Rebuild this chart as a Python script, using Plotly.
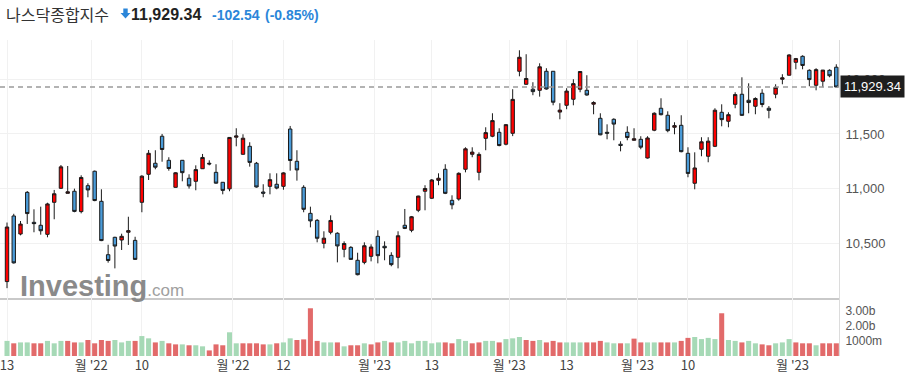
import plotly.graph_objects as go

# ---------------- data (NASDAQ Composite, daily) ----------------
opens = [10150, 10750, 10585, 10966, 10692, 10665, 10582, 10875, 11003, 10957,
         10976, 10790, 11027, 11159, 10884, 10396, 10555, 10530, 10601, 10527,
         10875, 11131, 11232, 11479, 11259, 11012, 11259, 11095, 11067, 11182,
         11232, 11149, 11058, 10998, 11470, 11314, 11387, 11232, 10969, 11021,
         11040, 11021, 11545, 11250, 11012, 10774, 10710, 10500, 10601, 10592,
         10445, 10463, 10345, 10326, 10381, 10564, 10473, 10390, 10372, 10665,
         10619, 10802, 10976, 10912, 11076, 11177, 10893, 10905, 11177, 11314,
         11149, 11460, 11479, 11515, 11406, 11506, 12073, 11954, 11909, 11899,
         12073, 12073, 11700, 11762, 11817, 11909, 11899, 11772, 11643, 11515,
         11634, 11406, 11515, 11442, 11451, 11280, 11534, 11735, 11671, 11561,
         11579, 11323, 11049, 11360, 11296, 11387, 11698, 11616, 11771, 11863,
         11808, 11753, 11872, 11735, 11863, 12000, 12037, 12155, 12210, 12082,
         11945, 11982, 12082, 12110]
highs = [10690, 10770, 10704, 10978, 10811, 10835, 10871, 10988, 11216, 11207,
         11000, 11122, 11049, 11165, 10994, 10487, 10560, 10588, 10743, 10560,
         11122, 11353, 11351, 11500, 11287, 11150, 11262, 11131, 11213, 11317,
         11259, 11223, 11060, 11472, 11552, 11497, 11424, 11244, 11040, 11140,
         11140, 11150, 11573, 11351, 11031, 10835, 10722, 10610, 10756, 10601,
         10518, 10474, 10414, 10509, 10491, 10619, 10518, 10418, 10610, 10814,
         10750, 10935, 11031, 11088, 11140, 11223, 10939, 11149, 11378, 11378,
         11332, 11561, 11689, 11552, 11590, 11909, 12265, 12229, 11973, 12146,
         12101, 12075, 11781, 11918, 12000, 12075, 12037, 11799, 11689, 11588,
         11643, 11433, 11570, 11552, 11479, 11479, 11698, 11826, 11707, 11607,
         11671, 11378, 11332, 11470, 11470, 11735, 11771, 11698, 11881, 12018,
         11963, 11835, 11909, 11755, 11954, 12046, 12229, 12195, 12219, 12091,
         12101, 12085, 12091, 12137]
lows = [10090, 10315, 10573, 10677, 10601, 10579, 10555, 10720, 10997, 10957,
        10784, 10774, 10921, 10885, 10520, 10323, 10271, 10439, 10485, 10350,
        10784, 11079, 11177, 11246, 11164, 11010, 11067, 11000, 10985, 11180,
        11213, 11045, 10948, 10976, 11387, 11310, 11201, 11010, 10921, 10948,
        10994, 10990, 11164, 11073, 10784, 10646, 10509, 10454, 10582, 10326,
        10372, 10350, 10207, 10308, 10335, 10317, 10345, 10290, 10271, 10630,
        10601, 10785, 10802, 10905, 11031, 10950, 10811, 10890, 11149, 11287,
        11076, 11351, 11470, 11387, 11396, 11480, 12027, 11950, 11854, 11841,
        11905, 11762, 11634, 11726, 11762, 11881, 11850, 11680, 11488, 11451,
        11442, 11341, 11442, 11440, 11360, 11275, 11525, 11670, 11515, 11497,
        11332, 11104, 10994, 11296, 11241, 11380, 11570, 11561, 11735, 11665,
        11689, 11680, 11744, 11643, 11826, 11954, 12035, 12091, 12091, 11936,
        11899, 11927, 12018, 11929.34]
closes = [10649, 10321, 10676, 10772, 10680, 10615, 10860, 10953, 11199, 10971,
          10792, 11102, 10988, 10891, 10525, 10343, 10475, 10564, 10616, 10353,
          11114, 11323, 11196, 11358, 11184, 11145, 11146, 11025, 11174, 11285,
          11226, 11050, 10984, 11468, 11482, 11461, 11240, 11015, 10958, 11082,
          11005, 11144, 11257, 11171, 10811, 10705, 10546, 10547, 10709, 10476,
          10498, 10353, 10213, 10478, 10466, 10387, 10459, 10305, 10569, 10636,
          10743, 10932, 11001, 11079, 11095, 10957, 10852, 11140, 11364, 11334,
          11313, 11512, 11622, 11394, 11585, 11816, 12201, 12007, 11887, 12114,
          11911, 11790, 11718, 11892, 11960, 12071, 11856, 11787, 11492, 11507,
          11590, 11395, 11467, 11456, 11379, 11463, 11689, 11676, 11530, 11576,
          11338, 11139, 11189, 11428, 11434, 11717, 11631, 11676, 11860, 11670,
          11787, 11824, 11769, 11716, 11926, 12013, 12222, 12189, 12126, 11997,
          12088, 12084, 12032, 11929.34]
volumes_b = [1.0, 0.84, 0.9, 0.9, 0.84, 0.84, 1.0, 0.84, 1.0, 1.0,
             0.9, 0.9, 1.06, 0.84, 1.06, 1.0, 1.06, 0.9, 1.0, 1.0,
             1.32, 1.17, 0.9, 1.0, 0.84, 0.77, 0.77, 0.71, 0.71, 0.64,
             0.37, 0.77, 0.71, 1.57, 0.84, 0.84, 0.84, 0.84, 0.77, 0.77,
             0.84, 0.9, 1.17, 1.06, 1.1, 3.16, 1.0, 0.9, 0.9, 0.9,
             0.64, 0.71, 0.71, 0.84, 0.77, 0.9, 1.0, 0.9, 0.9, 1.0,
             0.84, 1.0, 1.0, 0.84, 0.9, 0.9, 0.84, 1.12, 1.0, 0.84,
             0.9, 1.0, 1.0, 0.9, 1.12, 1.17, 1.26, 1.06, 1.0, 1.06,
             0.9, 1.0, 0.9, 0.9, 0.9, 0.9, 0.9, 0.9, 1.0, 0.9,
             0.84, 0.84, 0.84, 1.15, 0.9, 0.9, 0.9, 0.9, 0.9, 0.9,
             1.0, 1.2, 1.26, 1.12, 1.2, 1.12, 2.83, 1.06, 1.0, 0.9,
             1.0, 0.84, 0.77, 0.71, 0.84, 0.9, 1.12, 0.9, 0.84, 0.84,
             0.71, 0.84, 0.84, 0.84]

tick_positions = [0, 12.5, 20, 33.5, 41, 54.5, 63, 74.5, 83, 93.5, 101, 116.5]
tick_labels = ["13", "월 '22", "10", "월 '22", "12", "월 '23", "13", "월 '23", "13", "월 '23", "10", "월 '23"]
price_ticks = [10500, 11000, 11500, 12000]
volume_ticks = [1, 2, 3]
volume_tick_labels = ["1000m", "2.00b", "3.00b"]

title_text = "나스닥종합지수"
last_text = "11,929.34"
change_text = "-102.54"
pct_text = "(-0.85%)"

# ---------------- styling ----------------
UP_FILL = "#ff0000"
DOWN_FILL = "#4a9bd8"
VOL_UP = "#a6d9b6"
VOL_DOWN = "#e26a6a"
FONT = "Liberation Sans, Arial, sans-serif"
KFONT = "Noto Sans CJK KR, sans-serif"

x = list(range(len(closes)))
vol_colors = [VOL_UP if (i == 0 and closes[0] >= opens[0]) or (i > 0 and closes[i] >= closes[i - 1]) else VOL_DOWN
              for i in range(len(closes))]

W, H = 907, 386
ML, MR, MT, MB = 0, 68, 40, 30
PW, PH = W - ML - MR, H - MT - MB


def px(xp):
    return (xp - ML) / PW


def py(yp):
    return (H - MB - yp) / PH


split = py(298)

fig = go.Figure()
fig.add_trace(go.Candlestick(
    x=x, open=opens, high=highs, low=lows, close=closes,
    increasing=dict(fillcolor=UP_FILL, line=dict(color="#1a1a1a", width=1)),
    decreasing=dict(fillcolor=DOWN_FILL, line=dict(color="#1a1a1a", width=1)),
    whiskerwidth=0, xaxis="x", yaxis="y", showlegend=False, hoverinfo="skip"))
fig.add_trace(go.Bar(x=x, y=volumes_b, marker=dict(color=vol_colors, line=dict(width=0)),
                     xaxis="x2", yaxis="y2", showlegend=False, hoverinfo="skip"))

xr = [-1.04, 123.4]
grid = "#f1f1f1"
fig.update_layout(
    width=W, height=H, margin=dict(l=ML, r=MR, t=MT, b=MB),
    paper_bgcolor="white", plot_bgcolor="white",
    boxgap=0.28, bargap=0.25,
    font=dict(family=FONT, color="#444", size=13),
    xaxis=dict(domain=[0, 1], anchor="y", range=xr, tickmode="array", tickvals=tick_positions,
               showticklabels=False, showgrid=True, gridcolor=grid, zeroline=False,
               showline=True, linecolor="#c9c9c9", linewidth=2, rangeslider=dict(visible=False)),
    xaxis2=dict(domain=[0, 1], anchor="y2", range=xr, tickmode="array", tickvals=tick_positions,
                ticktext=tick_labels, showgrid=True, gridcolor=grid, zeroline=False,
                ticks="", ticklabeloverflow="allow",
                tickfont=dict(family=KFONT, size=13, color="#444"), showline=False),
    yaxis=dict(domain=[split, 1], range=[10000, 12359], side="right", tickvals=price_ticks,
               tickformat=",", showgrid=True, gridcolor=grid, zeroline=False,
               showline=True, linecolor="#dcdcdc", linewidth=1,
               ticks="outside", ticklen=3, tickcolor="rgba(0,0,0,0)", ticklabeloverflow="allow",
               tickfont=dict(family=FONT, size=13, color="#555")),
    yaxis2=dict(domain=[0, split], range=[0, 3.84], side="right", tickvals=volume_ticks,
                ticktext=volume_tick_labels, showgrid=False, zeroline=False,
                showline=True, linecolor="#dcdcdc", linewidth=1,
                ticks="outside", ticklen=3, tickcolor="rgba(0,0,0,0)", ticklabeloverflow="allow",
                tickfont=dict(family=FONT, size=12, color="#555")),
)

# current price dashed line
fig.add_shape(type="line", xref="paper", yref="y", x0=0, x1=1, y0=closes[-1], y1=closes[-1],
              line=dict(color="#9a9a9a", width=1.5, dash="5px,4px"))

# price box on right axis
fig.add_annotation(xref="paper", yref="y", x=1, y=closes[-1], xanchor="left", yanchor="middle",
                   xshift=1, text=last_text, showarrow=False, bgcolor="#1e1e1e", borderpad=3,
                   font=dict(family=FONT, size=13, color="white"))

# header
fig.add_annotation(xref="paper", yref="paper", x=px(4), y=py(14), xanchor="left", yanchor="middle",
                   text=title_text, showarrow=False, font=dict(family=KFONT, size=16, color="#333"))
ax0, ax1, am = 123.3, 127.7, 125.5
path = "M {} {} L {} {} L {} {} L {} {} L {} {} L {} {} L {} {} Z".format(
    px(ax0), py(8.5), px(ax1), py(8.5), px(ax1), py(13), px(130.5), py(13),
    px(am), py(18.5), px(120.5), py(13), px(ax0), py(13))
fig.add_shape(type="path", xref="paper", yref="paper", path=path,
              fillcolor="#2b86d9", line=dict(width=0))
fig.add_annotation(xref="paper", yref="paper", x=px(129), y=py(14), xanchor="left", yanchor="middle",
                   text="<b>" + last_text + "</b>", showarrow=False,
                   font=dict(family=FONT, size=16, color="#222"))
fig.add_annotation(xref="paper", yref="paper", x=px(210), y=py(14.5), xanchor="left", yanchor="middle",
                   text="<b>" + change_text + "</b>", showarrow=False,
                   font=dict(family=FONT, size=14, color="#2b86d9"))
fig.add_annotation(xref="paper", yref="paper", x=px(263), y=py(14.5), xanchor="left", yanchor="middle",
                   text="<b>" + pct_text + "</b>", showarrow=False,
                   font=dict(family=FONT, size=14, color="#2b86d9"))

# watermark
fig.add_annotation(xref="paper", yref="paper", x=px(18), y=py(304), xanchor="left", yanchor="bottom",
                   text="<b>Investing</b><span style='font-size:17px;color:#a0a0a0'>.com</span>",
                   showarrow=False, font=dict(family=FONT, size=29, color="#8a8a8a"))

fig.write_html("out.html", config={"displayModeBar": False},
               post_script="document.body.style.margin='0';")
